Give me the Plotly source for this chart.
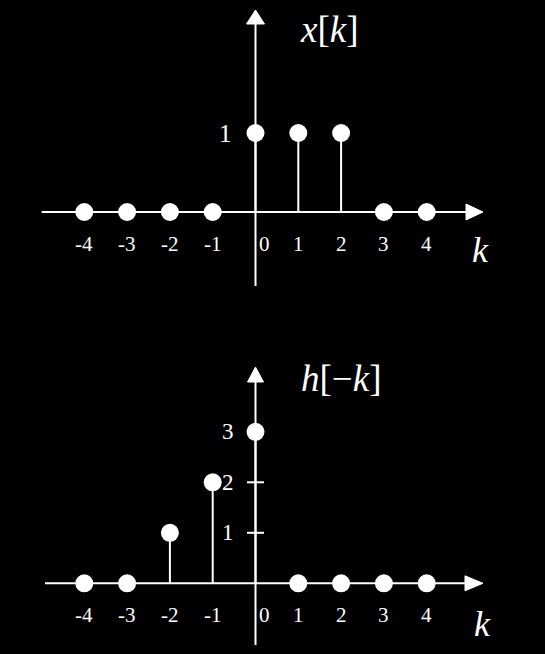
import plotly.graph_objects as go

# ---------------- data ----------------
k = [-4, -3, -2, -1, 0, 1, 2, 3, 4]
x_k = [0, 0, 0, 0, 1, 1, 1, 0, 0]
h_minus_k = [0, 0, 1, 2, 3, 0, 0, 0, 0]
x_tick_labels = ["-4", "-3", "-2", "-1", "0", "1", "2", "3", "4"]
top_y_labels = [1]
bot_y_labels = [1, 2, 3]
bot_y_tickmarks = [1, 2]

# ---------------- geometry (pixels) ----------------
W, H = 545, 654
X0, XS = 255.5, 42.8                      # pixel of k=0, pixels per unit k
TOP = dict(y0=212.0, ys=79.0, top=0, bottom=300)
BOT = dict(y0=583.3, ys=50.5, top=320, bottom=654)
FONT = "Liberation Serif, Times New Roman, DejaVu Serif, serif"
WHITE = "white"


def px(x):
    return x / W


def py(y):
    return 1 - y / H


def stems(ks, vs):
    xs, ys = [], []
    for kk, v in zip(ks, vs):
        if v != 0:
            xs += [kk, kk, None]
            ys += [0, v, None]
    return xs, ys


fig = go.Figure()
xr = [(0 - X0) / XS, (W - X0) / XS]

panels = [(x_k, TOP, "x", "y"), (h_minus_k, BOT, "x2", "y2")]
for vals, P, xa, ya in panels:
    sx, sy = stems(k, vals)
    fig.add_trace(go.Scatter(x=sx, y=sy, mode="lines",
                             line=dict(color=WHITE, width=2),
                             xaxis=xa, yaxis=ya, hoverinfo="skip"))
    fig.add_trace(go.Scatter(x=k, y=vals, mode="markers",
                             marker=dict(color=WHITE, size=18, line=dict(width=0)),
                             xaxis=xa, yaxis=ya))


def yrange(P):
    return [(P["y0"] - P["bottom"]) / P["ys"], (P["y0"] - P["top"]) / P["ys"]]


hidden = dict(visible=False, showgrid=False, zeroline=False, fixedrange=True)
fig.update_layout(
    width=W, height=H,
    margin=dict(l=0, r=0, t=0, b=0),
    paper_bgcolor="black", plot_bgcolor="black",
    showlegend=False,
    xaxis=dict(domain=[0, 1], range=xr, anchor="y", **hidden),
    yaxis=dict(domain=[py(TOP["bottom"]), py(TOP["top"])], range=yrange(TOP), anchor="x", **hidden),
    xaxis2=dict(domain=[0, 1], range=xr, anchor="y2", **hidden),
    yaxis2=dict(domain=[py(BOT["bottom"]), py(BOT["top"])], range=yrange(BOT), anchor="x2", **hidden),
)

shapes = []


def hline(x0, x1, y):
    shapes.append(dict(type="line", xref="paper", yref="paper",
                       x0=px(x0), x1=px(x1), y0=py(y), y1=py(y),
                       line=dict(color=WHITE, width=2)))


def vline(x, y0, y1):
    shapes.append(dict(type="line", xref="paper", yref="paper",
                       x0=px(x), x1=px(x), y0=py(y0), y1=py(y1),
                       line=dict(color=WHITE, width=2)))


def tri(points):
    d = "M " + " L ".join(f"{px(a):.5f},{py(b):.5f}" for a, b in points) + " Z"
    shapes.append(dict(type="path", xref="paper", yref="paper", path=d,
                       fillcolor=WHITE, line=dict(color=WHITE, width=1)))


# top axes
hline(41.7, 470, TOP["y0"])
tri([(483, TOP["y0"]), (466, TOP["y0"] - 8), (466, TOP["y0"] + 8)])
vline(X0, 286, 22)
tri([(X0, 10), (X0 - 9, 24), (X0 + 9, 24)])
# bottom axes
hline(45, 470, BOT["y0"])
tri([(483, BOT["y0"]), (465, BOT["y0"] - 7.5), (465, BOT["y0"] + 7.5)])
vline(X0, 645, 378)
tri([(X0, 367), (X0 - 8, 382), (X0 + 8, 382)])
# bottom y tick marks
for v in bot_y_tickmarks:
    shapes.append(dict(type="line", xref="x2", yref="y2", xsizemode="pixel", xanchor=0,
                       x0=-8.5, x1=8.5, y0=v, y1=v, line=dict(color=WHITE, width=2)))
fig.update_layout(shapes=shapes)

ann = []
for xa, ya in [("x", "y"), ("x2", "y2")]:
    for kk, lab in zip(k, x_tick_labels):
        a = dict(x=kk, y=0, xref=xa, yref=ya, text=lab, showarrow=False,
                 yshift=-32, font=dict(family=FONT, size=21, color=WHITE))
        if kk == 0:
            a.update(xanchor="left", xshift=1)
        ann.append(a)
for v in top_y_labels:
    ann.append(dict(x=0, y=v, xref="x", yref="y", text=str(v), showarrow=False,
                    xanchor="right", xshift=-22, font=dict(family=FONT, size=25, color=WHITE)))
for v in bot_y_labels:
    ann.append(dict(x=0, y=v, xref="x2", yref="y2", text=str(v), showarrow=False,
                    xanchor="right", xshift=-20, font=dict(family=FONT, size=23, color=WHITE)))

titles = [("<i>x</i>[<i>k</i>]", 329, 30, 37), ("<i>h</i>[\u2212<i>k</i>]", 341, 378, 37),
          ("<i>k</i>", 480, 250, 36), ("<i>k</i>", 482, 624, 36)]
for txt, x, y, s in titles:
    ann.append(dict(x=px(x), y=py(y), xref="paper", yref="paper", text=txt,
                    showarrow=False, xanchor="center", yanchor="middle",
                    font=dict(family=FONT, size=s, color=WHITE)))
fig.update_layout(annotations=ann)

fig.write_html(
    "out.html",
    config={"displayModeBar": False, "staticPlot": True},
    post_script="document.body.style.margin='0';document.body.style.background='black';",
)
